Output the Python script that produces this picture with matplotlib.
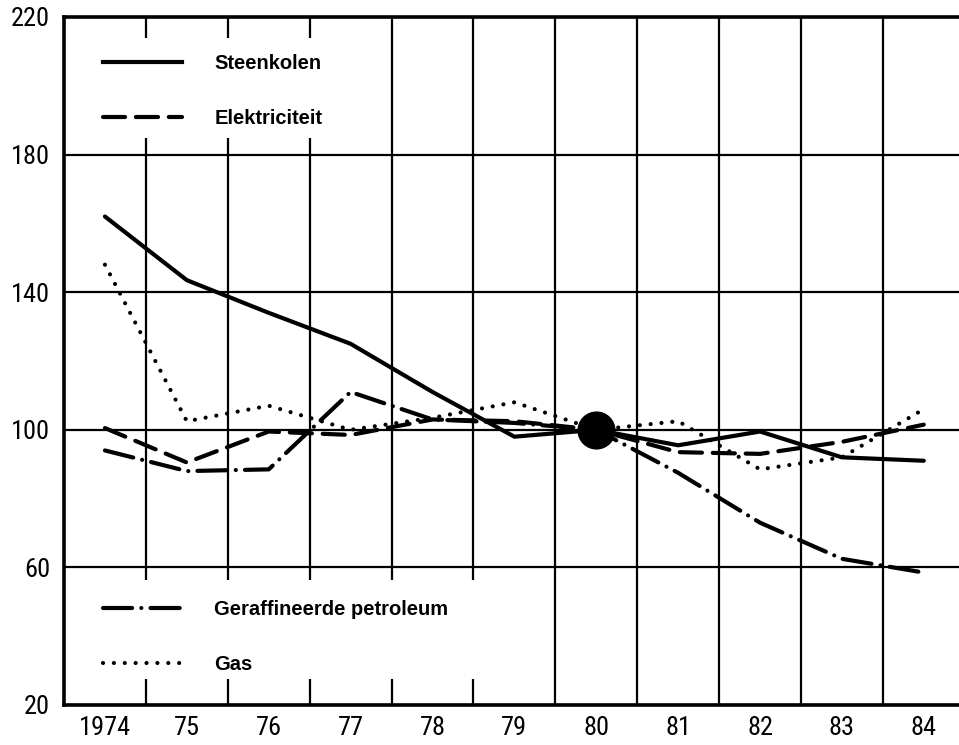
import matplotlib
matplotlib.use("Agg")
import matplotlib.pyplot as plt
from matplotlib import font_manager as fm
from matplotlib.lines import Line2D
from matplotlib.patches import Rectangle

# Index values (1980 = 100)
years = [1974, 1975, 1976, 1977, 1978, 1979, 1980, 1981, 1982, 1983, 1984]
year_labels = ["1974", "75", "76", "77", "78", "79", "80", "81", "82", "83", "84"]
steenkolen = [162, 143.5, 134, 125, 111, 98, 100, 95.5, 99.5, 92, 91]
elektriciteit = [100.5, 90.5, 99.5, 98.5, 103, 102.5, 100, 93.5, 93, 96.5, 101.5]
petroleum = [94, 88, 88.5, 111, 103, 102, 100, 87.5, 73, 62.5, 58.5]
gas = [148, 102.5, 107, 100, 103.5, 108, 100, 102.5, 88.5, 92, 106]
y_ticks = [20, 60, 100, 140, 180, 220]
base_year, base_value = 1980, 100

names = ["Steenkolen", "Elektriciteit", "Geraffineerde petroleum", "Gas"]

LW = 3.0
styles = {
    "Steenkolen": dict(linestyle="-"),
    "Elektriciteit": dict(linestyle=(0, (5.3, 2.6))),
    "Geraffineerde petroleum": dict(linestyle=(0, (7.0, 2.2, 0.01, 2.2))),
    "Gas": dict(linestyle=(0, (0.01, 2.6))),
}

TICK_SIZE = 19


def condensed_font():
    # look for a narrow/condensed face for the tick numbers
    prefs = ["Liberation Sans Narrow", "Roboto Condensed", "DejaVu Sans Condensed",
             "Open Sans Condensed", "Noto Sans Condensed"]
    fonts = fm.fontManager.ttflist
    for p in prefs:
        for f in fonts:
            if f.name == p and f.style == "normal":
                return fm.FontProperties(fname=f.fname, size=TICK_SIZE)
    for f in fonts:
        if f.stretch in ("condensed", "semi-condensed", "extra-condensed") and f.style == "normal":
            return fm.FontProperties(fname=f.fname, size=TICK_SIZE)
    return fm.FontProperties(family="Liberation Sans", size=16)


tick_font = condensed_font()
plt.rcParams["font.family"] = ["Liberation Sans", "DejaVu Sans"]

fig = plt.figure(figsize=(9.59, 7.45), dpi=100)
ax = fig.add_axes([64 / 959, 40 / 745, 895 / 959, 688 / 745])

series = [steenkolen, elektriciteit, petroleum, gas]
handles = []
for name, vals in zip(names, series):
    ax.plot(years, vals, color="black", lw=LW, zorder=3,
            dash_capstyle="round", solid_capstyle="round",
            **styles[name])
    handles.append(Line2D([], [], color="black", lw=LW, dash_capstyle="round",
                          **styles[name]))

ax.scatter([base_year], [base_value], s=700, color="black", zorder=4)

ax.set_xlim(1973.5, 1984.43)
ax.set_ylim(20, 220)

ax.set_xticks(years)
ax.set_xticklabels(year_labels)
ax.set_xticks([y + 0.5 for y in years[:-1]], minor=True)
ax.set_yticks(y_ticks)
ax.tick_params(axis="both", which="both", length=0)
ax.tick_params(axis="x", pad=8)
ax.tick_params(axis="y", pad=10)
for lab in ax.get_xticklabels() + ax.get_yticklabels():
    lab.set_fontproperties(tick_font)

ax.grid(True, which="minor", axis="x", color="black", lw=1.6)
ax.grid(True, which="major", axis="y", color="black", lw=1.6)
ax.set_axisbelow(True)

for side in ["left", "bottom", "top"]:
    ax.spines[side].set_linewidth(2.6)
ax.spines["right"].set_visible(False)

# white panels behind the legends (grid stops there, except short ticks)
ax.add_patch(Rectangle((1973.5, 184.8), 3.7, 29.1, facecolor="white",
                       edgecolor="none", zorder=1))
ax.add_patch(Rectangle((1973.5, 27.5), 5.7, 28.7, facecolor="white",
                       edgecolor="none", zorder=1))

leg_kw = dict(frameon=False, handlelength=3.9, handletextpad=1.6,
              labelspacing=1.8, borderaxespad=0,
              prop=dict(family=["Liberation Sans", "DejaVu Sans"], weight="bold", size=14.5))
leg1 = ax.legend(handles[:2], names[:2], loc="upper left",
                 bbox_to_anchor=(0.035, 0.958), **leg_kw)
ax.add_artist(leg1)
ax.legend(handles[2:], names[2:], loc="lower left",
          bbox_to_anchor=(0.035, 0.033), **leg_kw)

fig.savefig("out.png", dpi=100)
